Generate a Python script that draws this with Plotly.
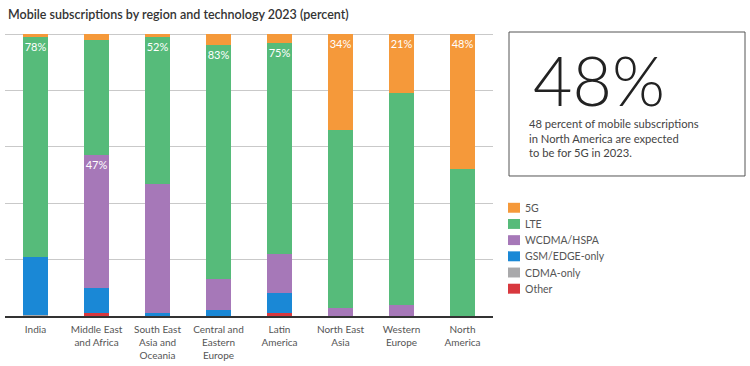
import plotly.graph_objects as go

regions = ["India", "Middle East<br>and Africa", "South East<br>Asia and<br>Oceania",
           "Central and<br>Eastern<br>Europe", "Latin<br>America", "North East<br>Asia",
           "Western<br>Europe", "North<br>America"]
series_names = ["Other", "CDMA-only", "GSM/EDGE-only", "WCDMA/HSPA", "LTE", "5G"]
other = [0, 1, 0, 0, 1, 0, 0, 0]
cdma = [0.5, 0, 0, 0, 0, 0, 0, 0]
gsm = [20.5, 9, 1, 2, 7, 0, 0, 0]
wcdma = [0, 47, 46, 11, 14, 3, 4, 0]
lte = [78, 41, 52, 83, 75, 63, 75, 52]
g5 = [1, 2, 1, 4, 3, 34, 21, 48]
labelled = ["LTE", "WCDMA/HSPA", "LTE", "LTE", "LTE", "5G", "5G", "5G"]
colors = ["#D8383E", "#A9A9AB", "#1A88D6", "#A678B8", "#56BB7A", "#F5993A"]
values = [other, cdma, gsm, wcdma, lte, g5]

FONT = "Lato"
W, H = 750, 366
L, R, T, B = 5, 257, 33, 48
pw, ph = W - L - R, H - T - B

def px(x):
    return (x - L) / pw

def py(y):
    return (H - B - y) / ph

fig = go.Figure()
for name, vals, col in zip(series_names, values, colors):
    txt = [f"{v:g}%" if lab == name else "" for v, lab in zip(vals, labelled)]
    fig.add_trace(go.Bar(
        x=regions, y=vals, name=name, marker=dict(color=col, line=dict(width=0)),
        text=txt, textposition="inside", insidetextanchor="end", textangle=0,
        constraintext="none", textfont=dict(color="white", size=11, family=FONT),
        showlegend=False, hoverinfo="x+y+name"))

fig.update_layout(
    width=W, height=H, barmode="stack", bargap=0.59,
    margin=dict(l=L, r=R, t=T, b=B),
    plot_bgcolor="white", paper_bgcolor="white",
    font=dict(family=FONT, color="#555555"),
    xaxis=dict(showgrid=False, showline=True, linecolor="#333333", linewidth=1.5,
               ticks="", ticklabelstandoff=3,
               tickfont=dict(size=10, color="#555555", family=FONT)),
    yaxis=dict(range=[0, 100.4], dtick=20, showticklabels=False, gridcolor="#c9c9c9",
               gridwidth=1, zeroline=False, showline=False),
)

# title
fig.add_annotation(text="Mobile subscriptions by region and technology 2023 (percent)",
                   xref="paper", yref="paper", x=px(6), y=py(14), xanchor="left",
                   yanchor="middle", showarrow=False,
                   font=dict(family=FONT, size=12.5, color="#333333", weight=600))

# callout box
fig.add_shape(type="rect", xref="paper", yref="paper", x0=px(509), x1=px(745),
              y0=py(177), y1=py(32), line=dict(color="#555555", width=1))
fig.add_annotation(text="48%", xref="paper", yref="paper", x=px(531), y=py(80),
                   xanchor="left", yanchor="middle", showarrow=False,
                   font=dict(family=FONT, size=68, color="#222222", weight=300))
fig.add_annotation(text="48 percent of mobile subscriptions<br>in North America are expected<br>to be for 5G in 2023.",
                   xref="paper", yref="paper", x=px(527), y=py(116), xanchor="left",
                   yanchor="top", align="left", showarrow=False,
                   font=dict(family=FONT, size=11.2, color="#444444"))

# legend (manual)
leg_order = ["5G", "LTE", "WCDMA/HSPA", "GSM/EDGE-only", "CDMA-only", "Other"]
for i, nm in enumerate(leg_order):
    col = colors[series_names.index(nm)]
    yc = 209 + i * 16.3
    fig.add_shape(type="rect", xref="paper", yref="paper", x0=px(508), x1=px(520),
                  y0=py(yc + 5), y1=py(yc - 5), fillcolor=col, line=dict(width=0))
    fig.add_annotation(text=nm, xref="paper", yref="paper", x=px(523), y=py(yc),
                       xanchor="left", yanchor="middle", showarrow=False,
                       font=dict(family=FONT, size=10.5, color="#555555"))

fig.write_html("out.html", config={"displayModeBar": False},
               post_script="document.body.style.margin='0';document.body.style.overflow='hidden';")
